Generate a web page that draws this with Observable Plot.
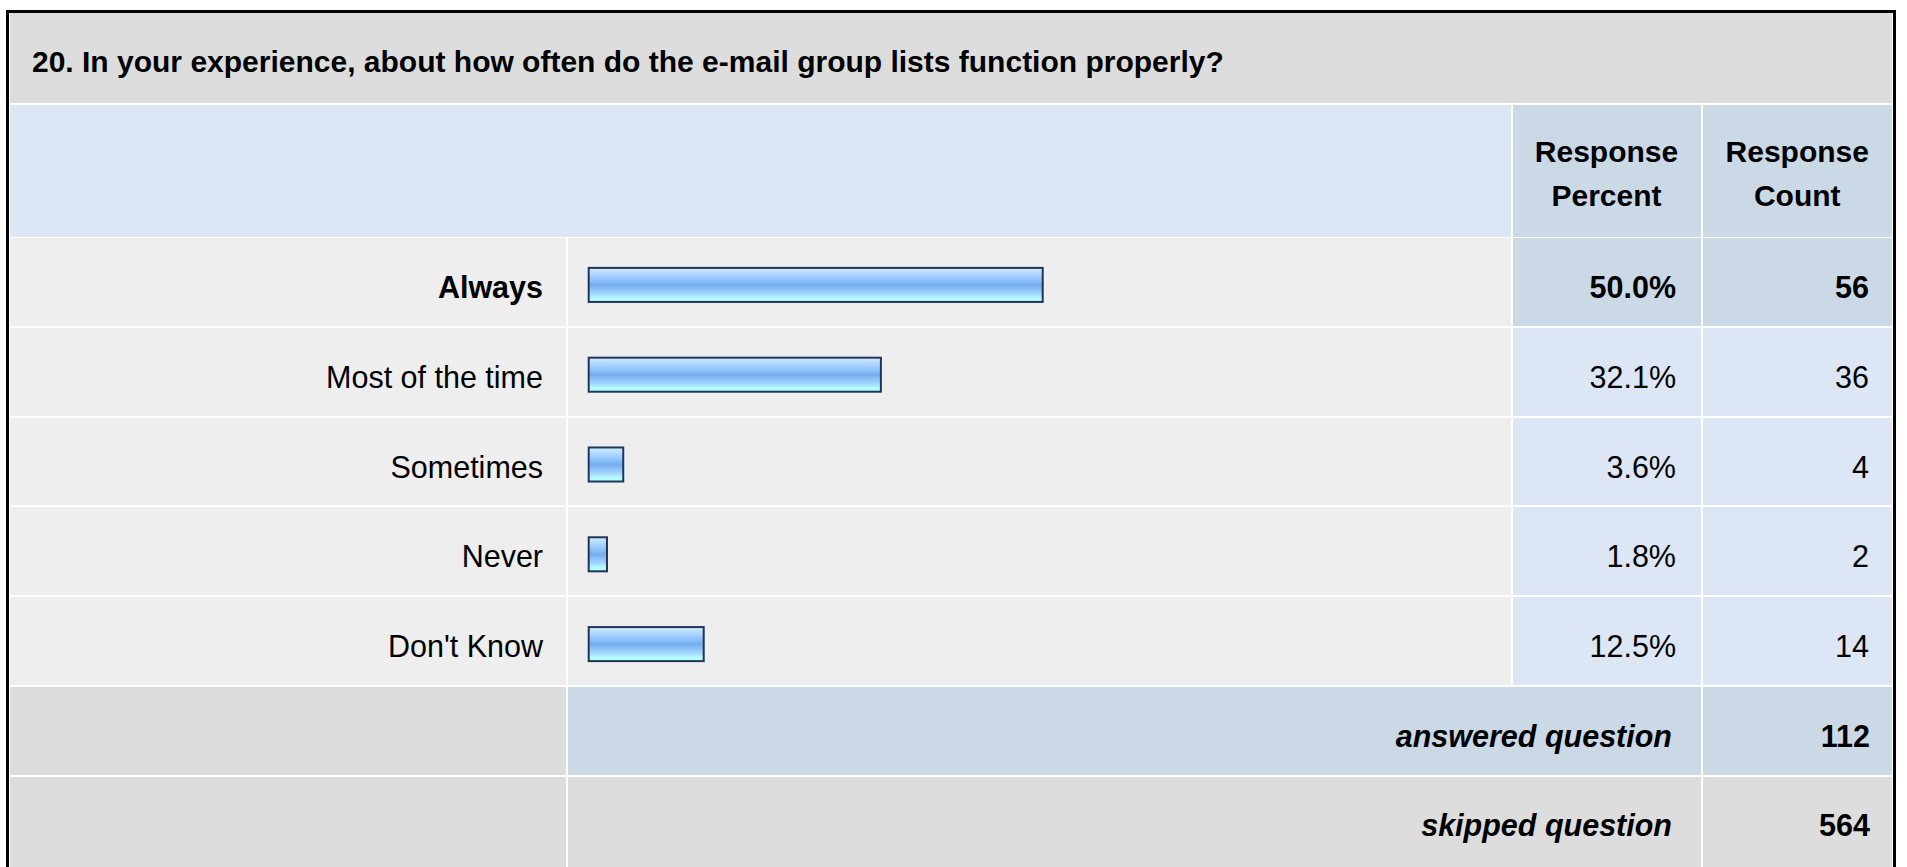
<!DOCTYPE html>
<html>
<head>
<meta charset="utf-8">
<script src="https://cdn.jsdelivr.net/npm/d3@7"></script>
<script src="https://cdn.jsdelivr.net/npm/@observablehq/plot@0.6"></script>
<style>
  html, body { margin: 0; padding: 0; background: #fff; width: 1907px; height: 867px; overflow: hidden; }
  body { position: relative; font-family: "Liberation Sans", Arial, Helvetica, sans-serif; color: #000; }
  .cell { position: absolute; box-sizing: border-box; }
  .t { position: absolute; white-space: nowrap; font-size: 30px; line-height: 30px; }
  .r { font-size: 30.5px; }
  .b { font-weight: bold; }
  .i { font-style: italic; }
  #frame { position: absolute; left: 6px; top: 10px; width: 1890px; height: 900px; border: 3px solid #000; box-sizing: border-box; }
  #bars { position: absolute; left: 567px; top: 239.8px; }
</style>
</head>
<body>
<div id="frame"></div>
<script>
// ---- data ----
const question = "20. In your experience, about how often do the e-mail group lists function properly?";
const categories = ["Always", "Most of the time", "Sometimes", "Never", "Don't Know"];
const percents = [50.0, 32.1, 3.6, 1.8, 12.5];
const counts = [56, 36, 4, 2, 14];
const headerLines = [["Response", "Percent"], ["Response", "Count"]];
const summaryLabels = ["answered question", "skipped question"];
const summaryValues = [112, 564];

// ---- layout (table) ----
const colA = [10, 565.5], colB = [567.5, 1510.5], colC = [1512.5, 1700.5], colD = [1702.5, 1892];
const rowTop = i => 238 + i * 89.8, rowH = 87.8;
const C = { gray: "#dddddd", light: "#eeeeee", blue: "#dce6f4", dblue: "#cbd8e6" };

function box(x0, y0, x1, y1, color) {
  const d = document.createElement("div");
  d.className = "cell";
  Object.assign(d.style, { left: x0 + "px", top: y0 + "px", width: (x1 - x0) + "px", height: (y1 - y0) + "px", background: color });
  document.body.appendChild(d);
}
function txt(s, x, baseline, anchor, cls) {
  const d = document.createElement("div");
  d.className = "t " + (cls || "");
  d.textContent = s;
  d.style.top = (baseline - 25.4) + "px";
  if (anchor === "end") d.style.right = (1907 - x) + "px";
  else if (anchor === "middle") { d.style.left = x + "px"; d.style.transform = "translateX(-50%)"; }
  else d.style.left = x + "px";
  document.body.appendChild(d);
}

// title band
box(colA[0], 13, colD[1], 102.5, C.gray);
txt(question, 32, 72.5, "start", "b");
// header
box(colA[0], 104.5, colB[1], 236.5, C.blue);
box(colC[0], 104.5, colC[1], 236.5, C.dblue);
box(colD[0], 104.5, colD[1], 236.5, C.dblue);
headerLines.forEach((lines, j) => {
  const col = j === 0 ? colC : colD;
  const cx = (col[0] + col[1]) / 2;
  lines.forEach((l, k) => txt(l, cx, 162 + k * 44, "middle", "b"));
});
// answer rows
categories.forEach((c, i) => {
  const y0 = rowTop(i), y1 = y0 + rowH, base = y0 + 59.3;
  const valColor = i === 0 ? C.dblue : C.blue;
  box(colA[0], y0, colA[1], y1, C.light);
  box(colB[0], y0, colB[1], y1, C.light);
  box(colC[0], y0, colC[1], y1, valColor);
  box(colD[0], y0, colD[1], y1, valColor);
  const cls = "r " + (i === 0 ? "b" : "");
  txt(c, 543, base, "end", cls);
  txt(percents[i].toFixed(1) + "%", 1676, base, "end", cls);
  txt(String(counts[i]), 1869, base, "end", cls);
});
// summary rows
summaryLabels.forEach((lab, k) => {
  const i = categories.length + k;
  const y0 = rowTop(i), y1 = y0 + rowH, base = y0 + 59;
  const col = k === 0 ? C.dblue : C.gray;
  box(colA[0], y0, colA[1], y1 + (k === 1 ? 10 : 0), C.gray);
  box(colB[0], y0, colC[1], y1 + (k === 1 ? 10 : 0), col);
  box(colD[0], y0, colD[1], y1 + (k === 1 ? 10 : 0), col);
  txt(lab, 1672, base, "end", "r b i");
  txt(String(summaryValues[k]), 1870, base, "end", "r b");
});

// ---- bars with Observable Plot ----
const data = categories.map((c, i) => ({ category: c, percent: percents[i] }));
const gradient = () => {
  const defs = d3.create("svg:defs");
  const g = defs.append("linearGradient").attr("id", "barGrad")
    .attr("x1", 0).attr("y1", 0).attr("x2", 0).attr("y2", 1);
  [[0, "#d6ecff"], [0.12, "#bcdfff"], [0.25, "#a2cfff"], [0.4, "#88bdf7"], [0.5, "#74acee"],
   [0.6, "#86bdf5"], [0.72, "#9bcffd"], [0.82, "#aee4ff"], [0.88, "#b4fbff"], [1, "#b4ffff"]]
    .forEach(([o, c]) => g.append("stop").attr("offset", o).attr("stop-color", c));
  return defs.node();
};
const chart = Plot.plot({
  width: 943,
  height: 449,
  marginLeft: 22.7,
  marginRight: 16.3,
  marginTop: 0,
  marginBottom: 0,
  x: { domain: [0, 100], axis: null },
  y: { domain: categories, axis: null, paddingInner: 0.621, paddingOuter: 0.3105, round: false },
  style: { background: "transparent", overflow: "visible" },
  marks: [
    gradient,
    Plot.barX(data, {
      x: "percent", y: "category",
      fill: "url(#barGrad)", stroke: "#1f3659", strokeWidth: 2,
      insetLeft: -1, insetRight: -1
    })
  ]
});
const wrap = document.createElement("div");
wrap.id = "bars";
wrap.appendChild(chart);
document.body.appendChild(wrap);
document.body.appendChild(document.getElementById("frame"));
</script>
</body>
</html>
